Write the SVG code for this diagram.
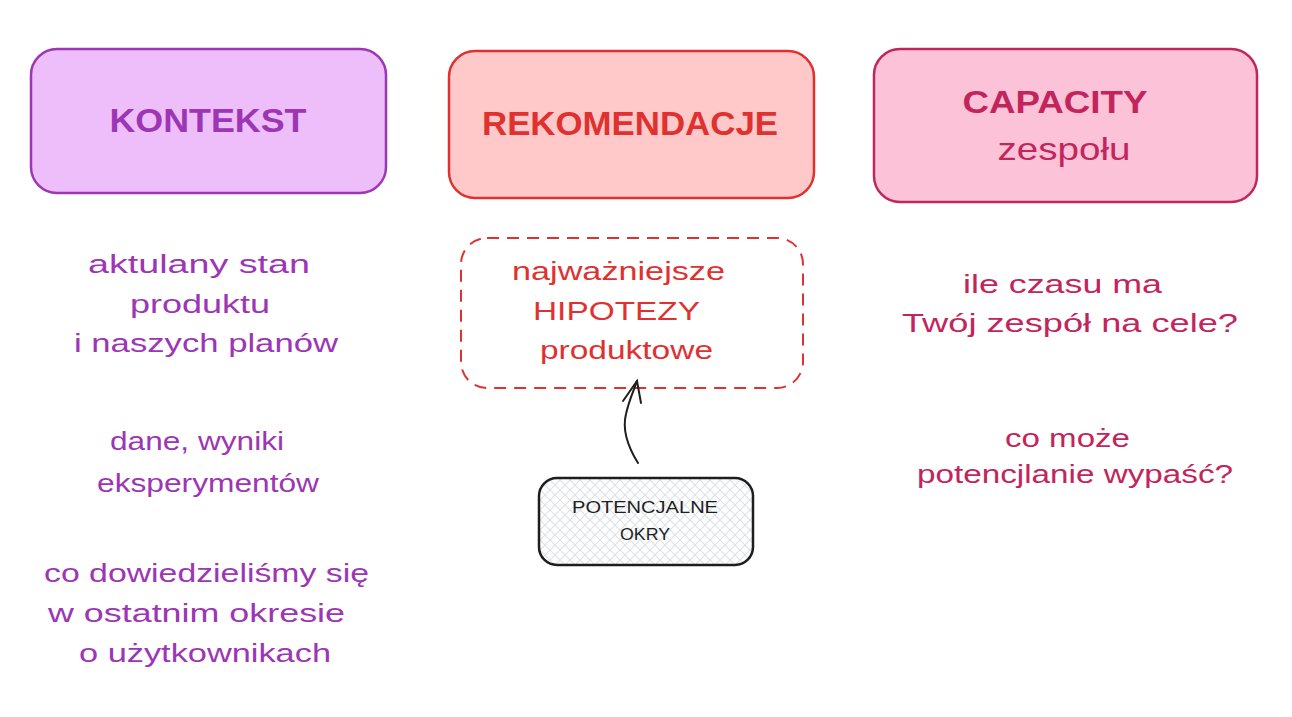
<svg xmlns="http://www.w3.org/2000/svg" width="1292" height="717" viewBox="0 0 1292 717">
<style>
  text { font-family: "Liberation Sans", "DejaVu Sans", sans-serif; }
  .hdr { font-size: 34px; font-weight: bold; text-anchor: middle; }
  .body { font-size: 26px; }
  .purple { fill: #9c36b5; }
  .red { fill: #e03131; }
  .pink { fill: #c2255c; }
  .dark { fill: #1e1e1e; }
</style>
<defs>
  <pattern id="hatch" width="10" height="10" patternUnits="userSpaceOnUse">
    <path d="M0 10 L10 0 M-2 2 L2 -2 M8 12 L12 8" stroke="#dee2e6" stroke-width="1.2"/>
    <path d="M0 0 L10 10 M-2 8 L2 12 M8 -2 L12 2" stroke="#dee2e6" stroke-width="1.2"/>
  </pattern>
</defs>
<rect width="1292" height="717" fill="#ffffff"/>

<g id="kontekst">
  <rect x="31" y="49" width="355" height="144" rx="26" fill="#eebefa" stroke="#9c36b5" stroke-width="2.5"/>
  <text class="hdr purple" x="208" y="132" textLength="197" lengthAdjust="spacingAndGlyphs">KONTEKST</text>
</g>

<g id="rekomendacje">
  <rect x="449" y="51" width="365" height="147" rx="26" fill="#ffc9c9" stroke="#e03131" stroke-width="2.5"/>
  <text class="hdr red" x="630" y="135" textLength="296" lengthAdjust="spacingAndGlyphs">REKOMENDACJE</text>
</g>

<g id="capacity">
  <rect x="874" y="49" width="383" height="153" rx="26" fill="#fcc2d7" stroke="#c2255c" stroke-width="2.5"/>
  <text class="hdr pink" x="1055" y="113" style="font-size:32px" textLength="185" lengthAdjust="spacingAndGlyphs">CAPACITY</text>
  <text class="hdr pink" x="1064" y="160" style="font-size:32px;font-weight:normal" textLength="133" lengthAdjust="spacingAndGlyphs">zespołu</text>
</g>

<g id="kontekst-notes">
  <text class="body purple" x="88" y="273" textLength="222" lengthAdjust="spacingAndGlyphs">aktulany stan</text>
  <text class="body purple" x="130" y="313" textLength="140" lengthAdjust="spacingAndGlyphs">produktu</text>
  <text class="body purple" x="74" y="352" textLength="264" lengthAdjust="spacingAndGlyphs">i naszych planów</text>
  <text class="body purple" x="110" y="450" textLength="174" lengthAdjust="spacingAndGlyphs">dane, wyniki</text>
  <text class="body purple" x="97" y="492" textLength="222" lengthAdjust="spacingAndGlyphs">eksperymentów</text>
  <text class="body purple" x="44" y="582" textLength="325" lengthAdjust="spacingAndGlyphs">co dowiedzieliśmy się</text>
  <text class="body purple" x="48" y="622" textLength="297" lengthAdjust="spacingAndGlyphs">w ostatnim okresie</text>
  <text class="body purple" x="79" y="662" textLength="252" lengthAdjust="spacingAndGlyphs">o użytkownikach</text>
</g>

<g id="hipotezy">
  <rect x="461" y="238" width="342" height="150" rx="26" fill="none" stroke="#e03131" stroke-width="2" stroke-dasharray="12 8"/>
  <text class="body red" x="512" y="280" textLength="213" lengthAdjust="spacingAndGlyphs">najważniejsze</text>
  <text class="body red" x="533" y="320" textLength="167" lengthAdjust="spacingAndGlyphs">HIPOTEZY</text>
  <text class="body red" x="540" y="359" textLength="173" lengthAdjust="spacingAndGlyphs">produktowe</text>
</g>

<g id="capacity-notes">
  <text class="body pink" x="963" y="293" textLength="199" lengthAdjust="spacingAndGlyphs">ile czasu ma</text>
  <text class="body pink" x="902" y="332" textLength="336" lengthAdjust="spacingAndGlyphs">Twój zespół na cele?</text>
  <text class="body pink" x="1005" y="447" textLength="125" lengthAdjust="spacingAndGlyphs">co może</text>
  <text class="body pink" x="917" y="483" textLength="316" lengthAdjust="spacingAndGlyphs">potencjlanie wypaść?</text>
</g>

<g id="okry">
  <rect x="539" y="478" width="214" height="87" rx="18" fill="url(#hatch)" stroke="#1e1e1e" stroke-width="2.5"/>
  <text class="dark" x="645" y="513" style="font-size:16px;text-anchor:middle" textLength="146" lengthAdjust="spacingAndGlyphs">POTENCJALNE</text>
  <text class="dark" x="645" y="540" style="font-size:16px;text-anchor:middle" textLength="50" lengthAdjust="spacingAndGlyphs">OKRY</text>
</g>

<g id="connectors" fill="none" stroke="#1e1e1e" stroke-width="2" stroke-linecap="round">
  <path d="M638 463 C 628 447, 622 430, 626 414 C 629 400, 634 390, 637 381"/>
  <path d="M623 401 L637 381 L641 403"/>
</g>
</svg>
